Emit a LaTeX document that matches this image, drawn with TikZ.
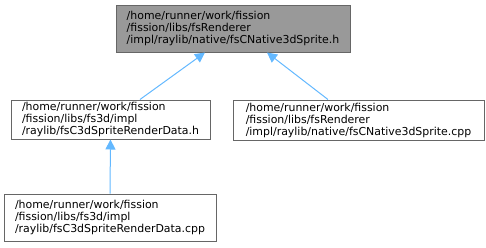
\documentclass[tikz,border=0pt]{standalone}
\usepackage{fontspec}
\setmainfont{DejaVu Sans}
\usetikzlibrary{arrows.meta}
\definecolor{edgeblue}{HTML}{63B8FF}
\definecolor{boxborder}{HTML}{666666}
\definecolor{topfill}{HTML}{999999}
\tikzset{
  filebox/.style={draw=boxborder, line width=0.75pt, fill=white, align=left,
    inner sep=0pt, font=\fontsize{8.2pt}{9pt}\selectfont, text=black},
  mainbox/.style={filebox, fill=topfill},
  dep/.style={draw=edgeblue, line width=0.75pt,
    {Triangle[length=7.5pt,width=7.5pt,fill=edgeblue]}-}
}
\begin{document}
\begin{tikzpicture}[x=0.75pt,y=-0.75pt]
\useasboundingbox (0,0) rectangle (486,247);
\node[mainbox, minimum width=175.5pt, minimum height=35.25pt] (top) at (233,28.5)
  {/home/runner/work/fission\\/fission/libs/fsRenderer\\/impl/raylib/native/fsCNative3dSprite.h};
\node[filebox, minimum width=149.25pt, minimum height=29.25pt] (b2) at (110.5,119.5)
  {/home/runner/work/fission\\/fission/libs/fs3d/impl\\/raylib/fsC3dSpriteRenderData.h};
\node[filebox, minimum width=188.25pt, minimum height=30pt] (b3) at (358.5,120)
  {/home/runner/work/fission\\/fission/libs/fsRenderer\\/impl/raylib/native/fsCNative3dSprite.cpp};
\node[filebox, minimum width=159pt, minimum height=35.25pt] (b4) at (110,217.5)
  {/home/runner/work/fission\\/fission/libs/fs3d/impl\\/raylib/fsC3dSpriteRenderData.cpp};
\draw[dep] ([xshift=-21pt]top.south) -- ([xshift=22.1pt]b2.north);
\draw[dep] ([xshift=25.5pt]top.south) -- ([xshift=-22.9pt]b3.north);
\draw[dep] (b2.south) -- (b4.north);
\end{tikzpicture}
\end{document}
